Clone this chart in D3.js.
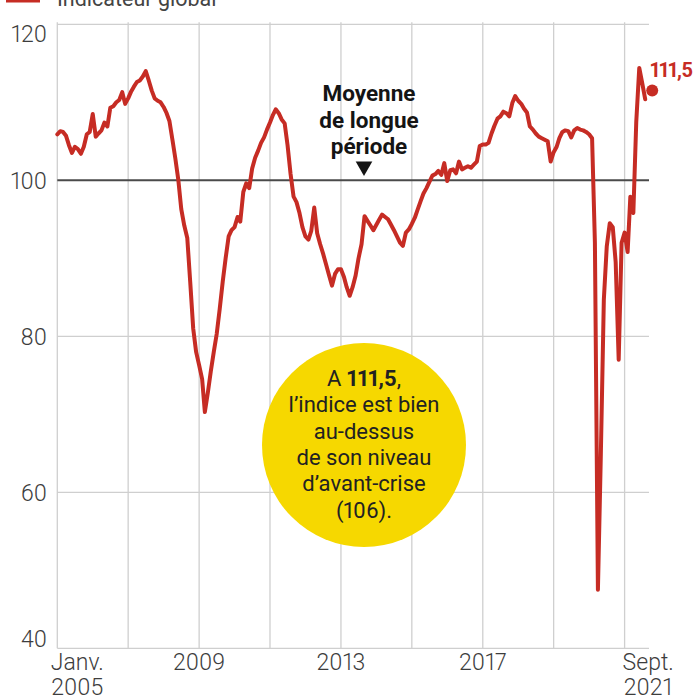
<!DOCTYPE html>
<html lang="fr">
<head>
<meta charset="utf-8">
<script src="https://cdn.jsdelivr.net/npm/d3@7"></script>
<style>
  html, body { margin: 0; padding: 0; background: #fff; }
  svg { display: block; }
  text { font-family: Roboto, "Noto Sans", sans-serif; font-variant-numeric: proportional-nums; }
</style>
</head>
<body>
<svg id="chart" width="694" height="698"></svg>
<script>
// Indicateur global du climat des affaires, mensuel, janvier 2005 – août 2021
const startMonth = "2005-01";
const indicator = [
  105.9, 106.3, 106.2, 105.7, 104.5, 103.5, 104.3, 104.0, 103.4, 104.3, 105.9, 106.2,
  108.5, 105.6, 106.0, 106.4, 107.4, 106.9, 109.3, 109.5, 110.0, 110.3, 111.3, 109.8,
  110.5, 111.4, 112.0, 112.6, 112.8, 113.3, 114.0, 112.8, 111.5, 110.5, 110.2, 110.0,
  109.4, 108.6, 107.6, 105.2, 102.8, 100.0, 96.3, 94.2, 92.6, 87.0, 81.0, 78.0,
  76.3, 74.5, 70.3, 72.8, 75.5, 78.0, 80.3, 83.5, 87.0, 90.0, 92.8, 93.6,
  94.0, 95.3, 94.7, 98.5, 99.6, 99.0, 101.5, 102.9, 103.8, 104.8, 105.5, 106.5,
  107.4, 108.4, 109.1, 108.6, 107.8, 107.3, 104.5, 100.8, 97.9, 97.2, 95.8, 94.0,
  92.8, 92.4, 93.5, 96.5, 93.2, 91.8, 90.6, 89.2, 87.8, 86.5, 88.0, 88.6,
  88.6, 87.6, 86.3, 85.2, 86.3, 87.8, 90.0, 91.8, 95.4, 94.8, 94.2, 93.6,
  94.3, 95.0, 95.6, 95.3, 95.0, 94.3, 93.6, 92.8, 92.0, 91.6, 93.3, 93.7,
  94.4, 95.2, 96.2, 97.3, 98.3, 99.0, 99.8, 100.6, 100.8, 101.2, 100.7, 102.2,
  99.9, 101.3, 101.4, 100.9, 102.4, 101.4, 101.6, 101.8, 101.6, 102.0, 102.4, 104.4,
  104.6, 104.6, 104.8, 106.0, 107.0, 107.9, 108.2, 108.8, 108.6, 108.2, 109.9, 110.8,
  110.2, 109.8, 109.2, 108.7, 106.9, 106.5, 106.0, 105.6, 105.4, 105.2, 105.0, 102.4,
  103.6, 104.3, 105.4, 106.2, 106.4, 106.3, 105.5, 106.4, 106.7, 106.5, 106.4, 106.2,
  105.9, 105.4, 92.0, 47.5, 64.8, 84.7, 91.5, 94.5, 94.0, 89.5, 77.0, 92.0,
  93.3, 90.8, 97.9, 95.8, 107.5, 114.4, 112.5, 110.4
];
// Dernier point publié
const lastMonth = "2021-09";
const lastValue = 111.5;
const lastLabel = "111,5";

const longTermMean = 100;
const yTicks = [40, 60, 80, 100, 120];
const xLabelMonths = ["2005-01", "2009-01", "2013-01", "2017-01", "2021-09"];
const xLabelLines = [["Janv.", "2005"], ["2009"], ["2013"], ["2017"], ["Sept.", "2021"]];
const gridYears = ["2005", "2007", "2009", "2011", "2013", "2015", "2017", "2019", "2021"];

const title = "Indicateur global";
const meanLabel = ["Moyenne", "de longue", "période"];
const bubbleLines = [
  [["A ", false], ["111,5", true], [",", false]],
  [["l\u2019indice est bien", false]],
  [["au-dessus", false]],
  [["de son niveau", false]],
  [["d\u2019avant-crise", false]],
  [["(106).", false]]
];

const RED = "#c62c24";
const parseMonth = d3.timeParse("%Y-%m");
const parseYear = d3.timeParse("%Y");
const start = parseMonth(startMonth);
const series = indicator.map((v, i) => ({ date: d3.timeMonth.offset(start, i), value: v }));

const svg = d3.select("#chart");

const x = d3.scaleTime()
  .domain([start, parseMonth(lastMonth)])
  .range([57.3, 648.2]);
const y = d3.scaleLinear()
  .domain([40, 120])
  .range([648.3, 24.3]);
const xRight = 649;

// Légende (partiellement hors cadre en haut)
svg.append("line")
  .attr("x1", 6).attr("x2", 40).attr("y1", 0.5).attr("y2", 0.5)
  .attr("stroke", RED).attr("stroke-width", 4);
svg.append("text")
  .attr("x", 57).attr("y", 6)
  .attr("font-size", 21.5).attr("fill", "#444")
  .text(title);

// Grille verticale tous les deux ans
svg.append("g")
  .selectAll("line")
  .data(gridYears.map(parseYear))
  .join("line")
  .attr("x1", d => x(d)).attr("x2", d => x(d))
  .attr("y1", y(120) - 2).attr("y2", y(40))
  .attr("stroke", "#cfcfcf").attr("stroke-width", 1.3);

// Grille horizontale
svg.append("g")
  .selectAll("line")
  .data(yTicks.filter(t => t !== longTermMean))
  .join("line")
  .attr("x1", x.range()[0]).attr("x2", xRight)
  .attr("y1", d => y(d)).attr("y2", d => y(d))
  .attr("stroke", "#cfcfcf").attr("stroke-width", 1.3);

// Moyenne de longue période
svg.append("line")
  .attr("x1", x.range()[0]).attr("x2", xRight)
  .attr("y1", y(longTermMean)).attr("y2", y(longTermMean))
  .attr("stroke", "#4a4a4a").attr("stroke-width", 2);

// Graduations de l'axe vertical
svg.append("g")
  .selectAll("text")
  .data(yTicks)
  .join("text")
  .attr("x", 47)
  .attr("y", d => y(d) + (d === 120 ? 10 : d === 40 ? -9 : 1))
  .attr("dy", "0.35em")
  .attr("text-anchor", "end")
  .attr("font-size", 23).attr("font-weight", 300).attr("fill", "#3d3d3d")
  .text(d => d);

// Graduations de l'axe horizontal
const xl = svg.append("g")
  .selectAll("text")
  .data(xLabelMonths.map((m, i) => ({ date: parseMonth(m), lines: xLabelLines[i], i })))
  .join("text")
  .attr("text-anchor", "middle")
  .attr("font-size", 23).attr("font-weight", 300).attr("fill", "#3d3d3d")
  .attr("transform", d => `translate(${x(d.date) + (d.i === 0 ? 20 : 0)},670)`);
xl.selectAll("tspan")
  .data(d => d.lines)
  .join("tspan")
  .attr("x", 0)
  .attr("y", (d, j) => j * 25)
  .text(d => d);

// Bulle d'annotation
const bubble = svg.append("g");
bubble.append("circle")
  .attr("cx", 364).attr("cy", 445).attr("r", 102)
  .attr("fill", "#f6d800");
const bt = bubble.append("text")
  .attr("text-anchor", "middle")
  .attr("font-size", 22).attr("fill", "#222");
bubbleLines.forEach((parts, i) => {
  const line = bt.append("tspan").attr("x", 364).attr("y", 386 + i * 26.3);
  parts.forEach(([s, bold]) => {
    line.append("tspan").attr("font-weight", bold ? 700 : 400).text(s);
  });
});

// Courbe
const line = d3.line()
  .x(d => x(d.date))
  .y(d => y(d.value))
  .curve(d3.curveLinear);
svg.append("path")
  .datum(series)
  .attr("d", line)
  .attr("fill", "none")
  .attr("stroke", RED)
  .attr("stroke-width", 4)
  .attr("stroke-linejoin", "round")
  .attr("stroke-linecap", "round");

// Étiquette de la moyenne et flèche
const mt = svg.append("text")
  .attr("text-anchor", "middle")
  .attr("font-size", 22.5).attr("font-weight", 700).attr("fill", "#141414");
meanLabel.forEach((s, i) => {
  mt.append("tspan").attr("x", 369).attr("y", 101 + i * 26.5).text(s);
});
svg.append("path")
  .attr("d", d3.symbol().type(d3.symbolTriangle).size(120)())
  .attr("transform", `translate(364,${y(longTermMean) - 14}) rotate(180)`)
  .attr("fill", "#141414");

// Dernier point
svg.append("circle")
  .attr("cx", x(parseMonth(lastMonth)) + 4)
  .attr("cy", y(lastValue))
  .attr("r", 6)
  .attr("fill", RED);
svg.append("text")
  .attr("x", 650).attr("y", 77)
  .attr("font-size", 20).attr("font-weight", 700).attr("fill", RED)
  .attr("letter-spacing", -0.6)
  .text(lastLabel);
</script>
</body>
</html>
